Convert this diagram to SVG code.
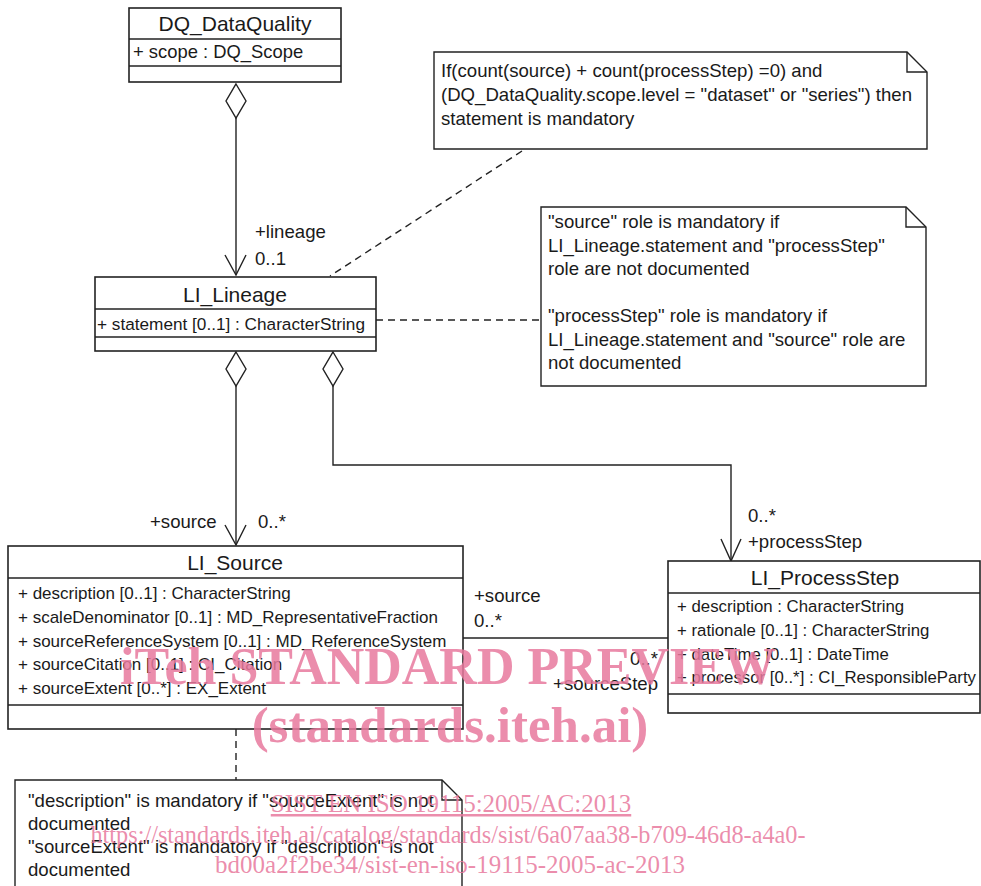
<svg xmlns="http://www.w3.org/2000/svg" width="981" height="886" viewBox="0 0 981 886">
<style>
text{font-family:"Liberation Sans",Arial,sans-serif;fill:#1a1a1a}
.t{font-size:21px;text-anchor:middle}
.a{font-size:17px}
.n{font-size:18.6px}
.l{font-size:18.6px}
.box{fill:#fff;stroke:#222;stroke-width:1.6}
.sep{stroke:#222;stroke-width:1.6}
.ln{fill:none;stroke:#222;stroke-width:1.4}
.dash{fill:none;stroke:#222;stroke-width:1.4;stroke-dasharray:7 5}
.dia{fill:#fff;stroke:#222;stroke-width:1.4}
.note{fill:#fff;stroke:#222;stroke-width:1.4}
.wm{font-family:"Liberation Serif","Times New Roman",serif;fill:#e8799d;fill-opacity:0.85}
</style>

<g id="connectors">
  <!-- DQ_DataQuality to LI_Lineage -->
  <path class="ln" d="M236,118 V275"/>
  <path class="ln" d="M225,255 L236,275 L246,255"/>
  <polygon class="dia" points="236,84 246,101 236,118 226,101"/>
  <!-- LI_Lineage to LI_Source -->
  <path class="ln" d="M236,386 V545"/>
  <path class="ln" d="M225,525 L236,545 L246,525"/>
  <polygon class="dia" points="236,352 246,369 236,386 226,369"/>
  <!-- LI_Lineage to LI_ProcessStep -->
  <path class="ln" d="M333,386 V465 H731 V561"/>
  <path class="ln" d="M721,539 L731,561 L741,539"/>
  <polygon class="dia" points="333,352 343,369 333,386 323,369"/>
  <!-- LI_Source to LI_ProcessStep -->
  <path class="ln" d="M463,638 H668"/>
  <!-- note anchors -->
  <path class="dash" d="M522,151 L330,276"/>
  <path class="dash" d="M376,320 H540"/>
  <path class="dash" d="M236,729 V780"/>
  <!-- labels -->
  <text class="l" x="255" y="238">+lineage</text>
  <text class="l" x="255" y="265">0..1</text>
  <text class="l" x="150" y="528">+source</text>
  <text class="l" x="258" y="528">0..*</text>
  <text class="l" x="748" y="522">0..*</text>
  <text class="l" x="748" y="548">+processStep</text>
  <text class="l" x="474" y="602">+source</text>
  <text class="l" x="474" y="627">0..*</text>
  <text class="l" x="658" y="665" text-anchor="end">0..*</text>
  <text class="l" x="658" y="690" text-anchor="end">+sourceStep</text>
</g>

<g id="DQ_DataQuality">
  <rect class="box" x="129" y="8" width="212" height="74"/>
  <line class="sep" x1="129" y1="39" x2="341" y2="39"/>
  <line class="sep" x1="129" y1="66" x2="341" y2="66"/>
  <text class="t" x="235" y="31">DQ_DataQuality</text>
  <text class="a" x="133" y="58" style="font-size:18.4px">+ scope : DQ_Scope</text>
</g>

<g id="LI_Lineage">
  <rect class="box" x="95" y="277" width="281" height="74"/>
  <line class="sep" x1="95" y1="309" x2="376" y2="309"/>
  <line class="sep" x1="95" y1="337" x2="376" y2="337"/>
  <text class="t" x="235" y="302">LI_Lineage</text>
  <text class="a" x="97" y="330" style="font-size:17.2px">+ statement [0..1] : CharacterString</text>
</g>

<g id="LI_Source">
  <rect class="box" x="8" y="546" width="455" height="183"/>
  <line class="sep" x1="8" y1="578" x2="463" y2="578"/>
  <line class="sep" x1="8" y1="705" x2="463" y2="705"/>
  <text class="t" x="235" y="570">LI_Source</text>
  <text class="a" x="18" y="599">+ description [0..1] : CharacterString</text>
  <text class="a" x="18" y="623">+ scaleDenominator [0..1] : MD_RepresentativeFraction</text>
  <text class="a" x="18" y="647">+ sourceReferenceSystem [0..1] : MD_ReferenceSystem</text>
  <text class="a" x="18" y="670">+ sourceCitation [0..1] : CI_Citation</text>
  <text class="a" x="18" y="694">+ sourceExtent [0..*] : EX_Extent</text>
</g>

<g id="LI_ProcessStep">
  <rect class="box" x="668" y="561" width="312" height="152"/>
  <line class="sep" x1="668" y1="593" x2="980" y2="593"/>
  <line class="sep" x1="668" y1="694" x2="980" y2="694"/>
  <text class="t" x="825" y="585">LI_ProcessStep</text>
  <text class="a" x="677" y="612" style="font-size:16.8px">+ description : CharacterString</text>
  <text class="a" x="677" y="636" style="font-size:16.8px">+ rationale [0..1] : CharacterString</text>
  <text class="a" x="677" y="660" style="font-size:16.8px">+ dateTime [0..1] : DateTime</text>
  <text class="a" x="677" y="683" style="font-size:16.8px">+ processor [0..*] : CI_ResponsibleParty</text>
</g>

<g id="note_statement">
  <path class="note" d="M434,52 H907 L927,72 V149 H434 Z"/>
  <path class="ln" d="M907,52 V72 H927"/>
  <text class="n" x="441" y="77">If(count(source) + count(processStep) =0) and</text>
  <text class="n" x="441" y="101">(DQ_DataQuality.scope.level = "dataset" or "series") then</text>
  <text class="n" x="441" y="125">statement is mandatory</text>
</g>

<g id="note_roles">
  <path class="note" d="M541,207 H906 L926,227 V386 H541 Z"/>
  <path class="ln" d="M906,207 V227 H926"/>
  <text class="n" x="548" y="228">"source" role is mandatory if</text>
  <text class="n" x="548" y="252">LI_Lineage.statement and "processStep"</text>
  <text class="n" x="548" y="275">role are not documented</text>
  <text class="n" x="548" y="322">"processStep" role is mandatory if</text>
  <text class="n" x="548" y="346">LI_Lineage.statement and "source" role are</text>
  <text class="n" x="548" y="369">not documented</text>
</g>

<g id="note_source">
  <path class="note" d="M15,780 H442 L462,800 V890 H15 Z"/>
  <path class="ln" d="M442,780 V800 H462"/>
  <text class="n" x="28" y="807">"description" is mandatory if "sourceExtent" is not</text>
  <text class="n" x="28" y="830">documented</text>
  <text class="n" x="28" y="853">"sourceExtent" is mandatory if "description" is not</text>
  <text class="n" x="28" y="876">documented</text>
</g>

<g id="watermark">
  <text class="wm" x="448" y="684" text-anchor="middle" style="font-size:52px;font-weight:bold">iTeh STANDARD PREVIEW</text>
  <text class="wm" x="450" y="742" text-anchor="middle" style="font-size:51px;font-weight:bold">(standards.iteh.ai)</text>
  <text class="wm" x="451" y="812" text-anchor="middle" style="font-size:25px;text-decoration:underline">SIST EN ISO 19115:2005/AC:2013</text>
  <text class="wm" x="448" y="843" text-anchor="middle" style="font-size:24.3px">https://standards.iteh.ai/catalog/standards/sist/6a07aa38-b709-46d8-a4a0-</text>
  <text class="wm" x="450" y="873" text-anchor="middle" style="font-size:25px">bd00a2f2be34/sist-en-iso-19115-2005-ac-2013</text>
</g>
</svg>
